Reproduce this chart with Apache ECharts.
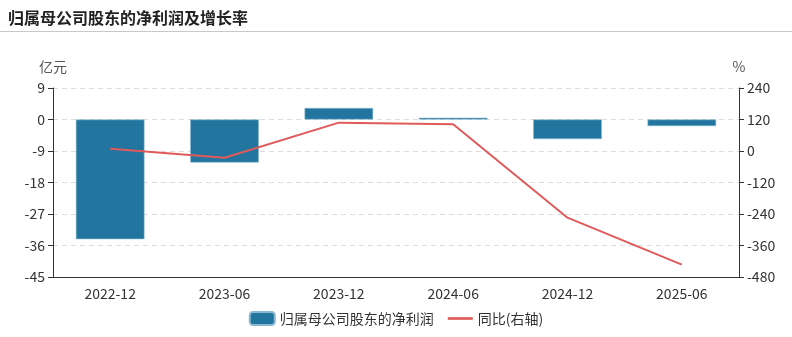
<!DOCTYPE html>
<html>
<head>
<meta charset="utf-8">
<script src="https://cdn.jsdelivr.net/npm/echarts@6/dist/echarts.min.js"></script>
<style>
html,body{margin:0;padding:0;background:#fff;}
#title{position:absolute;left:8px;top:5px;font:bold 16px "Noto Sans CJK SC",sans-serif;color:#222;}
#rule{position:absolute;left:0;top:31px;width:792px;height:1px;background:#c8c8c8;}
#chart{position:absolute;left:0;top:0;width:792px;height:337px;}
</style>
</head>
<body>
<div id="chart"></div>
<div id="title">归属母公司股东的净利润及增长率</div>
<div id="rule"></div>
<script>
// Reporting periods
const categories = ['2022-12', '2023-06', '2023-12', '2024-06', '2024-12', '2025-06'];
// Net profit attributable to parent shareholders (亿元)
const netProfit = [-34.2, -12.3, 3.3, 0.5, -5.6, -1.9];
// Year-on-year change (%)
const yoyGrowth = [8.8, -25.5, 108, 101.6, -254, -433];

const barName = '归属母公司股东的净利润';
const lineName = '同比(右轴)';
const font = '"Noto Sans CJK SC", sans-serif';

const chart = echarts.init(document.getElementById('chart'));
chart.setOption({
  animation: false,
  textStyle: { fontFamily: font },
  grid: { left: 53, right: 53, top: 88, bottom: 60, containLabel: false },
  legend: {
    bottom: 6,
    itemWidth: 25,
    itemHeight: 13,
    itemGap: 14,
    textStyle: { fontSize: 14, color: '#333', fontFamily: font },
    data: [
      { name: barName, icon: 'roundRect' },
      { name: lineName, icon: 'path://M0,0 L28,0 L28,3 L0,3 Z', itemStyle: { color: '#e05a5a' } }
    ]
  },
  xAxis: {
    type: 'category',
    data: categories,
    axisLine: { onZero: false, lineStyle: { color: '#333' } },
    axisTick: { alignWithLabel: true, lineStyle: { color: '#333' } },
    axisLabel: { color: '#333', fontSize: 14, margin: 10 }
  },
  yAxis: [
    {
      type: 'value', name: '亿元', min: -45, max: 9, interval: 9,
      nameTextStyle: { color: '#555', fontSize: 14, padding: [0, 0, 2, 0] },
      nameGap: 12,
      axisLine: { show: true, lineStyle: { color: '#333' } },
      axisTick: { show: true, lineStyle: { color: '#333' } },
      axisLabel: { color: '#333', fontSize: 14 },
      splitLine: { lineStyle: { color: '#ddd', type: [5, 4] } }
    },
    {
      type: 'value', name: '%', min: -480, max: 240, interval: 120,
      nameTextStyle: { color: '#555', fontSize: 14, padding: [0, 0, 2, 0] },
      nameGap: 12,
      axisLine: { show: true, lineStyle: { color: '#333' } },
      axisTick: { show: true, lineStyle: { color: '#333' } },
      axisLabel: { color: '#333', fontSize: 14 },
      splitLine: { show: false }
    }
  ],
  series: [
    {
      name: barName, type: 'bar', data: netProfit, barWidth: '60%',
      itemStyle: { color: '#21759f', borderColor: '#8bb8d0', borderWidth: 0.6 }
    },
    {
      name: lineName, type: 'line', yAxisIndex: 1, data: yoyGrowth,
      symbol: 'none', lineStyle: { color: '#e05a5a', width: 2 },
      itemStyle: { color: '#e05a5a' }
    }
  ]
});
</script>
</body>
</html>
